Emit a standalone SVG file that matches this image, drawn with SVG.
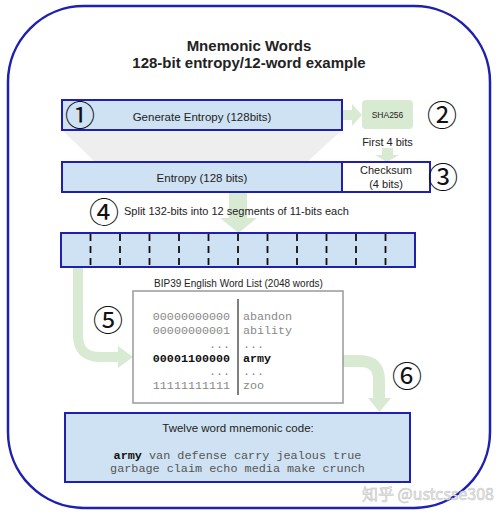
<svg xmlns="http://www.w3.org/2000/svg" width="499" height="516" viewBox="0 0 499 516">
<style>
.sans{font-family:"Liberation Sans",Arial,sans-serif;fill:#222}
.mono{font-family:"Liberation Mono","Courier New",monospace}
.num{font-family:"Noto Sans CJK JP","DejaVu Sans",sans-serif;font-size:30px;fill:#111;text-anchor:middle}
.box{fill:#cfe2f3;stroke:#1f1fb0;stroke-width:2}
.wbox{fill:#ffffff;stroke:#1f1fb0;stroke-width:2}
.green{fill:#d9ead3}
.gline{fill:none;stroke:#d9ead3}
.sep{stroke:#111;stroke-width:1.8;stroke-dasharray:7 5}
</style>
<rect x="8" y="6" width="482" height="502" rx="76" ry="76" fill="#ffffff" stroke="#1f1fb0" stroke-width="2.5"/>
<g id="title">
<text class="sans" x="249" y="51" font-size="15" font-weight="bold" text-anchor="middle" fill="#111">Mnemonic Words</text>
<text class="sans" x="249" y="68" font-size="15" font-weight="bold" text-anchor="middle" fill="#111">128-bit entropy/12-word example</text>
</g>
<g id="connectors">
<polygon points="62,130 342,130 307,162 95,162" fill="#eeeeee"/>
<rect x="342" y="110" width="11" height="10" class="green"/>
<polygon points="352,104 362,115 352,126" class="green"/>
<rect x="382" y="148" width="11" height="8" class="green"/>
<polygon points="375,155 399,155 387,162" class="green"/>
<rect x="229" y="192" width="18" height="26" class="green"/>
<polygon points="220,218 257,218 238.5,233" class="green"/>
<path d="M78 267 V335 Q78 357 100 357 H119" class="gline" stroke-width="10"/>
<polygon points="118,346 133,357 118,368" class="green"/>
<path d="M343 361 H360 Q379 361 379 380 V399" class="gline" stroke-width="12"/>
<polygon points="368,398 391,398 379.5,412" class="green"/>
</g>
<g id="generate">
<rect x="62" y="100" width="280" height="30" class="box"/>
<text class="sans" x="202" y="121" font-size="11.5" text-anchor="middle">Generate Entropy (128bits)</text>
<text class="num" x="80" y="126">①</text>
</g>
<g id="sha256">
<rect x="362" y="100" width="51" height="29" rx="4" class="green"/>
<text class="sans" x="387.5" y="118" font-size="8.5" text-anchor="middle">SHA256</text>
<text class="num" x="442" y="126">②</text>
<text class="sans" x="387.5" y="146" font-size="11" text-anchor="middle">First 4 bits</text>
</g>
<g id="entropy">
<rect x="62" y="162" width="280" height="30" class="box"/>
<text class="sans" x="202" y="182" font-size="11.5" text-anchor="middle">Entropy (128 bits)</text>
</g>
<g id="checksum">
<rect x="342" y="162" width="88" height="30" class="wbox"/>
<text class="sans" x="386" y="174" font-size="11" text-anchor="middle">Checksum</text>
<text class="sans" x="386" y="188" font-size="11" text-anchor="middle">(4 bits)</text>
<text class="num" x="443" y="188">③</text>
</g>
<g id="split">
<text class="num" x="104" y="223">④</text>
<text class="sans" x="124" y="215" font-size="11">Split 132-bits into 12 segments of 11-bits each</text>
<rect x="61" y="233" width="354" height="34" class="box"/>
<g class="sep">
<line x1="90.5" y1="234" x2="90.5" y2="267"/>
<line x1="120" y1="234" x2="120" y2="267"/>
<line x1="149.5" y1="234" x2="149.5" y2="267"/>
<line x1="179" y1="234" x2="179" y2="267"/>
<line x1="208.5" y1="234" x2="208.5" y2="267"/>
<line x1="238" y1="234" x2="238" y2="267"/>
<line x1="267.5" y1="234" x2="267.5" y2="267"/>
<line x1="297" y1="234" x2="297" y2="267"/>
<line x1="326.5" y1="234" x2="326.5" y2="267"/>
<line x1="356" y1="234" x2="356" y2="267"/>
<line x1="385.5" y1="234" x2="385.5" y2="267"/>
</g>
</g>
<g id="wordlist">
<text class="sans" x="238.5" y="287" font-size="10" text-anchor="middle">BIP39 English Word List (2048 words)</text>
<rect x="133" y="291" width="210" height="112" fill="#ffffff" stroke="#999999" stroke-width="1.5"/>
<line x1="238" y1="299" x2="238" y2="395" stroke="#555555" stroke-width="1.5"/>
<text class="num" x="108" y="331">⑤</text>
<g class="mono" font-size="11.7" fill="#888888">
<text x="230" y="320" text-anchor="end">00000000000</text>
<text x="230" y="334" text-anchor="end">00000000001</text>
<text x="230" y="348" text-anchor="end">...</text>
<text x="230" y="375" text-anchor="end">...</text>
<text x="230" y="389" text-anchor="end">11111111111</text>
<text x="243" y="320">abandon</text>
<text x="243" y="334">ability</text>
<text x="243" y="348">...</text>
<text x="243" y="375">...</text>
<text x="243" y="389">zoo</text>
</g>
<text class="mono" x="230" y="362" font-size="11.7" font-weight="bold" fill="#111" text-anchor="end">00001100000</text>
<text class="mono" x="243" y="362" font-size="11.7" font-weight="bold" fill="#111">army</text>
<text class="num" x="407" y="387">⑥</text>
</g>
<g id="mnemonic">
<rect x="65" y="413" width="345" height="69" class="box"/>
<text class="sans" x="238" y="432" font-size="11.5" text-anchor="middle">Twelve word mnemonic code:</text>
<text class="mono" x="237.5" y="459" font-size="11.8" fill="#555555" text-anchor="middle"><tspan font-weight="bold" fill="#111">army</tspan> van defense carry jealous true</text>
<text class="mono" x="237.5" y="472" font-size="11.8" fill="#555555" text-anchor="middle">garbage claim echo media make crunch</text>
</g>
<text x="362" y="500" font-family="Noto Sans CJK SC,Liberation Sans,sans-serif" font-size="16" fill="#ececec" stroke="#c0c0c0" stroke-width="0.5">知乎 @ustcsse308</text>
</svg>
